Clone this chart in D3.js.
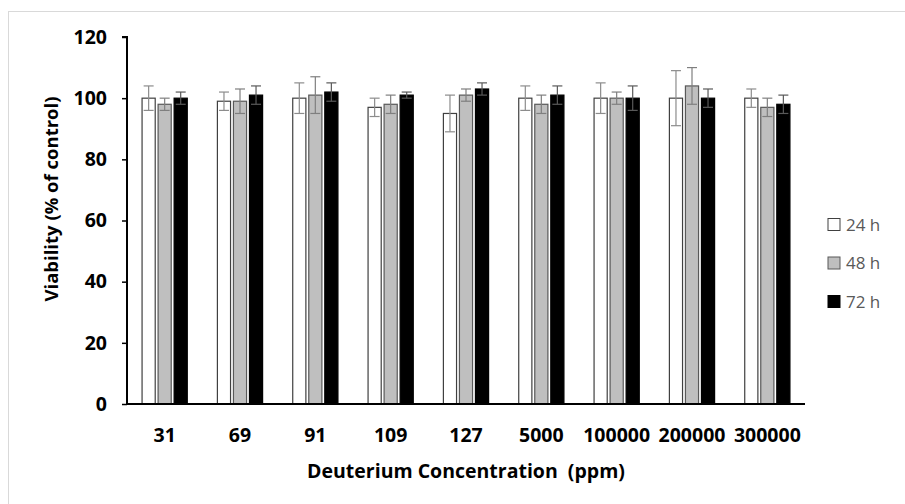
<!DOCTYPE html>
<html>
<head>
<meta charset="utf-8">
<script src="https://cdn.jsdelivr.net/npm/d3@7"></script>
<style>
  html, body { margin: 0; padding: 0; background: #fff; }
  svg { display: block; }
</style>
</head>
<body>
<svg id="chart" width="905" height="504"></svg>
<script>
const categories = ["31", "69", "91", "109", "127", "5000", "100000", "200000", "300000"];
const seriesNames = ["24 h", "48 h", "72 h"];
const values24 = [100, 99, 100, 97, 95, 100, 100, 100, 100];
const values48 = [98, 99, 101, 98, 101, 98, 100, 104, 97];
const values72 = [100, 101, 102, 101, 103, 101, 100, 100, 98];
const err24 = [4, 3, 5, 3, 6, 4, 5, 9, 3];
const err48 = [2, 4, 6, 3, 2, 3, 2, 6, 3];
const err72 = [2, 3, 3, 1, 2, 3, 4, 3, 3];
const yTicks = [0, 20, 40, 60, 80, 100, 120];

(function () {
const FONT = "'Open Sans', Lato, sans-serif";
const svg = d3.select("#chart");

// outer frame
svg.append("rect").attr("x", 8.5).attr("y", 11.5).attr("width", 920).attr("height", 520)
  .attr("fill", "none").attr("stroke", "#d9d9d9").attr("stroke-width", 1);

const pL = 127, pR = 805, pT = 37, pB = 404;

const x0 = d3.scaleBand().domain(categories).range([pL, pR]).paddingInner(0.4).paddingOuter(0.2);
const x1 = d3.scaleBand().domain(seriesNames).range([0, x0.bandwidth()]).paddingInner(0.18);
const y = d3.scaleLinear().domain([0, 120]).range([pB, pT]);

const series = [
  { name: "24 h", vals: values24, errs: err24, fill: "#ffffff", stroke: "#404040", ecol: "#8c8c8c" },
  { name: "48 h", vals: values48, errs: err48, fill: "#bfbfbf", stroke: "#595959", ecol: "#7f7f7f" },
  { name: "72 h", vals: values72, errs: err72, fill: "#000000", stroke: "#000000", ecol: "#595959" }
];

// bars
series.forEach(s => {
  const g = svg.append("g");
  g.selectAll("rect").data(categories).enter().append("rect")
    .attr("x", (c) => x0(c) + x1(s.name))
    .attr("y", (c, i) => y(s.vals[i]))
    .attr("width", x1.bandwidth())
    .attr("height", (c, i) => y(0) - y(s.vals[i]))
    .attr("fill", s.fill)
    .attr("stroke", s.stroke)
    .attr("stroke-width", 1.2);
});

// error bars
series.forEach(s => {
  const g = svg.append("g").attr("stroke", s.ecol).attr("stroke-width", 1.2);
  categories.forEach((c, i) => {
    const cx = x0(c) + x1(s.name) + x1.bandwidth() / 2;
    const yt = y(s.vals[i] + s.errs[i]);
    const yb = y(s.vals[i] - s.errs[i]);
    g.append("line").attr("x1", cx).attr("x2", cx).attr("y1", yt).attr("y2", yb);
    g.append("line").attr("x1", cx - 5).attr("x2", cx + 5).attr("y1", yt).attr("y2", yt);
    g.append("line").attr("x1", cx - 5).attr("x2", cx + 5).attr("y1", yb).attr("y2", yb);
  });
});

// y axis
const yAxis = d3.axisLeft(y).tickValues(yTicks).tickSize(5).tickPadding(15);
const gy = svg.append("g").attr("transform", `translate(${pL},0)`).call(yAxis);
gy.select(".domain").attr("stroke", "#000").attr("stroke-width", 2).attr("d", `M-5,${pT}H0V${pB}`);
gy.selectAll(".tick line").attr("stroke", "#000").attr("stroke-width", 1.5);
gy.selectAll(".tick text").attr("font-family", FONT).attr("font-weight", "bold")
  .attr("font-size", 19.5).attr("fill", "#000");

// x axis
const xAxis = d3.axisBottom(x0).tickSize(0).tickPadding(24);
const gx = svg.append("g").attr("transform", `translate(0,${pB})`).call(xAxis);
gx.select(".domain").attr("stroke", "#000").attr("stroke-width", 2).attr("d", `M${pL},0H${pR}`);
gx.selectAll(".tick text").attr("font-family", FONT).attr("font-weight", "bold")
  .attr("font-size", 19.5).attr("fill", "#000");

// axis titles
svg.append("text").attr("x", (pL + pR) / 2).attr("y", 478).attr("text-anchor", "middle")
  .attr("font-family", FONT).attr("font-weight", "bold").attr("font-size", 19.5).attr("fill", "#000")
  .attr("xml:space", "preserve").style("white-space", "pre")
  .text("Deuterium Concentration  (ppm)");
svg.append("text").attr("transform", "translate(58,199) rotate(-90)")
  .attr("text-anchor", "middle")
  .attr("font-family", FONT).attr("font-weight", "bold").attr("font-size", 18.5).attr("fill", "#000")
  .text("Viability (% of control)");

// legend
const legend = svg.append("g");
series.forEach((s, i) => {
  const ly = 224.5 + i * 38.5;
  legend.append("rect").attr("x", 828).attr("y", ly - 6).attr("width", 12).attr("height", 12)
    .attr("fill", s.fill).attr("stroke", s.stroke).attr("stroke-width", 1);
  legend.append("text").attr("x", 846).attr("y", ly).attr("dy", "0.36em")
    .attr("font-family", FONT).attr("font-size", 17).attr("fill", "#595959").text(s.name);
});
})();
</script>
</body>
</html>
